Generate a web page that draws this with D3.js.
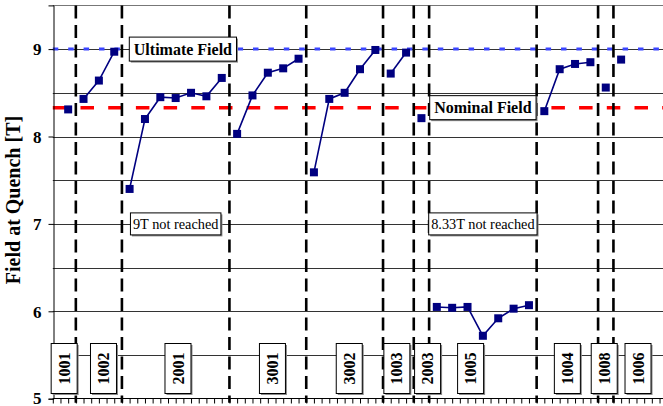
<!DOCTYPE html>
<html>
<head>
<meta charset="utf-8">
<script src="https://cdn.jsdelivr.net/npm/d3@7"></script>
<style>
  html, body { margin: 0; padding: 0; background: #fff; }
  svg { display: block; }
</style>
</head>
<body>
<svg id="chart" width="663" height="406"></svg>
<script>
// Magnets tested, in test order, and the field reached at each quench
const magnets = ["1001", "1002", "2001", "3001", "3002", "1003", "2003", "1005", "1004", "1008", "1006"];
const quenchField = [
  [8.31],
  [8.43, 8.64, 8.97],
  [7.40, 8.20, 8.45, 8.44, 8.50, 8.46, 8.67],
  [8.03, 8.47, 8.73, 8.78, 8.89],
  [7.59, 8.43, 8.50, 8.77, 8.99],
  [8.72, 8.96],
  [8.21],
  [6.05, 6.04, 6.05, 5.72, 5.92, 6.03, 6.07],
  [8.29, 8.77, 8.83, 8.85],
  [8.56],
  [8.88]
];
// where each magnet tag sits along the quench axis
const tagAt = [0.74, 3.3, 8.15, 14.3, 19.3, 22.4, 24.4, 27.2, 33.5, 35.9, 38.1];

const ultimateField = 9;
const nominalField = 8.33;
const yTicks = [5, 6, 7, 8, 9];
const notes = [
  { text: "9T not reached", x: 8, y: 7 },
  { text: "8.33T not reached", x: 28, y: 7 }
];
const fieldTags = [
  { text: "Ultimate Field", x: 8.47, y: ultimateField },
  { text: "Nominal Field", x: 28, y: nominalField }
];

(function draw() {
  const W = 663;
  const svg = d3.select("#chart");
  const serif = "'Liberation Serif', 'Times New Roman', serif";

  const x = d3.scaleLinear().domain([0, 40]).range([52.8, 52.8 + 40 * 15.36]);
  const y = d3.scaleLinear().domain([5, 9.5]).range([398.7, 5.4]);
  const plotL = x(0), plotR = W, plotT = y(9.5), plotB = y(5);

  // flatten series into numbered quenches
  let n = 0;
  const groups = quenchField.map((vals, gi) => {
    const pts = vals.map(v => ({ q: ++n, v }));
    return { name: magnets[gi], pts };
  });
  const boundaries = groups.slice(0, -1).map(g => g.pts[g.pts.length - 1].q + 0.5);

  // horizontal grid every 0.5 T
  const grid = d3.range(5.5, 9.51, 0.5);
  svg.append("g").selectAll("line").data(grid).join("line")
    .attr("x1", plotL).attr("x2", plotR)
    .attr("y1", d => Math.round(y(d)) + 0.5).attr("y2", d => Math.round(y(d)) + 0.5)
    .attr("stroke", d => d === 9.5 ? "#777" : "#333").attr("stroke-width", 1);

  // reference lines
  svg.append("line")
    .attr("x1", plotL).attr("x2", plotR)
    .attr("y1", y(ultimateField)).attr("y2", y(ultimateField))
    .attr("stroke", "#3a45ff").attr("stroke-width", 3)
    .attr("stroke-dasharray", "5.5,9.9");
  svg.append("line")
    .attr("x1", plotL).attr("x2", plotR)
    .attr("y1", y(nominalField)).attr("y2", y(nominalField))
    .attr("stroke", "#ff0000").attr("stroke-width", 3.5)
    .attr("stroke-dasharray", "13.5,14.2");

  // magnet separators
  svg.append("g").selectAll("line").data(boundaries).join("line")
    .attr("x1", d => x(d)).attr("x2", d => x(d))
    .attr("y1", plotT).attr("y2", plotB + 4)
    .attr("stroke", "#000").attr("stroke-width", 2.6)
    .attr("stroke-dasharray", "13,6.5");

  // axes
  const yAxis = d3.axisLeft(y).tickValues(yTicks).tickSize(5).tickFormat(d3.format("d"));
  const gy = svg.append("g").attr("transform", `translate(${Math.round(plotL) + 0.5},0)`).call(yAxis);
  gy.select(".domain").attr("stroke", "#000");
  gy.selectAll(".tick line").attr("stroke", "#000");
  gy.selectAll(".tick text")
    .attr("font-family", serif).attr("font-weight", "bold").attr("font-size", 17)
    .attr("fill", "#000").attr("x", -12).attr("dy", d => d === 5 ? "0.26em" : "0.34em");

  const xAxis = d3.axisBottom(x).tickValues(d3.range(0, 39.6, 0.5)).tickSize(5).tickFormat("");
  const gx = svg.append("g").attr("transform", `translate(0,${Math.round(plotB) - 0.5})`).call(xAxis);
  gx.select(".domain").attr("stroke", "#000").attr("d", `M${plotL},0H${plotR}`);
  gx.selectAll(".tick line").attr("stroke", "#000");

  svg.append("text")
    .attr("transform", `translate(20,200) rotate(-90)`)
    .attr("text-anchor", "middle")
    .attr("font-family", serif).attr("font-weight", "bold").attr("font-size", 20)
    .text("Field at Quench [T]");

  // quench series
  const line = d3.line().x(d => x(d.q)).y(d => y(d.v));
  const gs = svg.append("g");
  gs.selectAll("path").data(groups.filter(g => g.pts.length > 1)).join("path")
    .attr("d", g => line(g.pts))
    .attr("fill", "none").attr("stroke", "#000080").attr("stroke-width", 1.6);
  gs.selectAll("rect").data(groups.flatMap(g => g.pts)).join("rect")
    .attr("x", d => x(d.q) - 4).attr("y", d => y(d.v) - 4)
    .attr("width", 8).attr("height", 8).attr("fill", "#000080");

  // boxed labels
  function boxedText(cx, cy, text, opts) {
    const g = svg.append("g");
    const t = g.append("text")
      .attr("font-family", serif).attr("font-weight", opts.bold ? "bold" : "normal")
      .attr("font-size", opts.size).attr("text-anchor", "middle")
      .attr("dy", "0.35em").text(text);
    const len = t.node().getComputedTextLength();
    const bw = opts.rotate ? opts.h : len + 2 * opts.pad;
    const bh = opts.rotate ? len + 2 * opts.pad : opts.h;
    g.insert("rect", "text")
      .attr("x", cx - bw / 2 + 1.5).attr("y", cy - bh / 2 + 1.5)
      .attr("width", bw).attr("height", bh).attr("fill", "#8a8a8a");
    g.insert("rect", "text")
      .attr("x", cx - bw / 2).attr("y", cy - bh / 2)
      .attr("width", bw).attr("height", bh)
      .attr("fill", "#fff").attr("stroke", "#000").attr("stroke-width", 1);
    t.attr("transform", opts.rotate ? `translate(${cx},${cy}) rotate(-90)` : `translate(${cx},${cy})`);
  }

  fieldTags.forEach(d => boxedText(x(d.x), y(d.y), d.text, { bold: true, size: 16, pad: 4.5, h: 24 }));
  notes.forEach(d => boxedText(x(d.x), y(d.y), d.text, { bold: false, size: 14.3, pad: 2.5, h: 22 }));
  magnets.forEach((m, i) => boxedText(x(tagAt[i]), y(5.5) + 13.5, m, { bold: true, size: 16, pad: 9, h: 26, rotate: true }));
})();
</script>
</body>
</html>
